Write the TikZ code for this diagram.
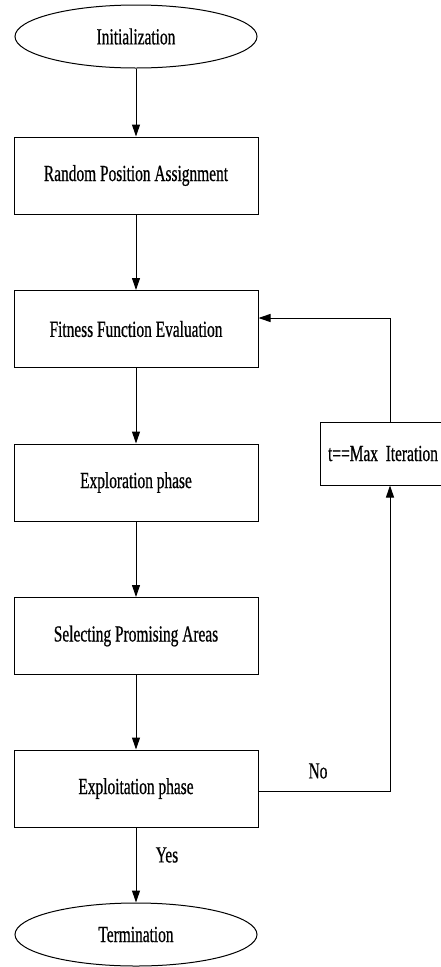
\documentclass[tikz,border=0pt]{standalone}
\usepackage{fontspec}
\setmainfont{Liberation Serif}[FakeStretch=0.67,FakeBold=0.6]
\usetikzlibrary{arrows.meta,shapes.geometric}
\begin{document}
\begin{tikzpicture}[x=1pt,y=-1pt,
  every node/.style={font=\fontsize{23}{25}\selectfont},
  stepbox/.style={draw,line width=1pt,minimum width=244pt,minimum height=77pt,inner sep=0pt},
  termbox/.style={draw,ellipse,line width=1pt,minimum width=242pt,minimum height=63pt,inner sep=0pt},
  arr/.style={line width=1pt,-{Triangle[length=12pt,width=8pt]}},
  lbl/.style={inner sep=0pt}]
\useasboundingbox (0,0) rectangle (441,967);
\clip (0,0) rectangle (441,967);
\node[termbox] (init) at (136,36.5) {Initialization};
\node[stepbox] (rand) at (136,175.5) {Random Position Assignment};
\node[stepbox] (fit) at (136,329) {Fitness Function Evaluation};
\node[stepbox] (expl) at (136,482.5) {Exploration phase};
\node[stepbox] (sel) at (136,636) {Selecting Promising Areas};
\node[stepbox] (expt) at (136,788.5) {Exploitation phase};
\node[termbox] (term) at (136,934.5) {Termination};
\node[draw,line width=1pt,minimum width=140pt,minimum height=63pt,inner sep=0pt] (tmax) at (390,453.5) {\hspace*{-14pt}t==Max\ \ Iteration};
\draw[arr] (init) -- (rand);
\draw[arr] (rand) -- (fit);
\draw[arr] (fit) -- (expl);
\draw[arr] (expl) -- (sel);
\draw[arr] (sel) -- (expt);
\draw[arr] (expt) -- (term);
\draw[arr] (expt.east |- 0,791) -| (tmax.south);
\draw[arr] (tmax.north) |- (fit.east |- 0,318);
\node[lbl] (no) at (318,771) {No};
\node[lbl] (yes) at (167,855) {Yes};
\end{tikzpicture}
\end{document}
